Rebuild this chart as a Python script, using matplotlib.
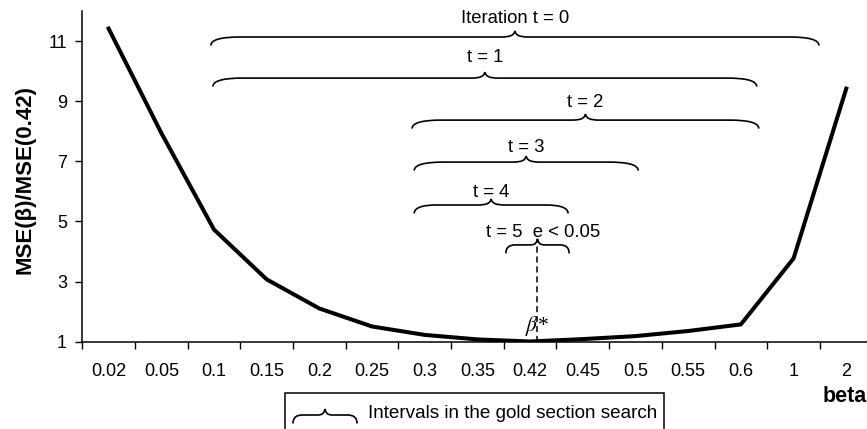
import numpy as np
import matplotlib
matplotlib.use("Agg")
import matplotlib.pyplot as plt
from matplotlib.path import Path
from matplotlib.patches import PathPatch, Rectangle

plt.rcParams['font.family'] = ['Liberation Sans', 'DejaVu Sans']

# data
betas = ['0.02', '0.05', '0.1', '0.15', '0.2', '0.25', '0.3', '0.35', '0.42',
         '0.45', '0.5', '0.55', '0.6', '1', '2']
mse_ratio = [11.43, 7.95, 4.73, 3.07, 2.1, 1.5, 1.22, 1.07, 1.0,
             1.08, 1.18, 1.35, 1.57, 3.77, 9.43]

# golden section intervals (in category units) and height of each brace
iter_labels = ['Iteration t = 0', 't = 1', 't = 2', 't = 3', 't = 4', 't = 5  e < 0.05']
iv_left = [1.94, 1.98, 5.76, 5.80, 5.80, 7.54]
iv_right = [13.48, 12.30, 12.34, 10.05, 8.72, 8.74]
iv_height = [11.15, 9.78, 8.38, 6.98, 5.55, 4.22]
label_height = [11.78, 10.45, 8.95, 7.45, 5.98, 4.62]
beta_star = 8.13

fig = plt.figure(figsize=(8.67, 4.29), dpi=100)
W, H = 867, 429
ax = fig.add_axes([82.3 / W, 87.5 / H, 790.3 / W, 330 / H])

x = np.arange(len(betas))
ax.plot(x, mse_ratio, color='black', lw=2.9, solid_joinstyle='miter', zorder=3)

ax.set_xlim(-0.5, len(betas) - 0.5)
ax.set_ylim(1, 12)
ax.set_yticks([1, 3, 5, 7, 9, 11])
ax.set_xticks(x)
ax.set_xticklabels(betas)
ax.set_xticks(np.arange(len(betas) + 1) - 0.5, minor=True)
ax.tick_params(axis='x', which='major', length=0, pad=15.5, labelsize=13)
ax.tick_params(axis='x', which='minor', length=5, width=1, direction='out')
ax.tick_params(axis='y', length=5, width=1, direction='out', pad=6, labelsize=13)
for s in ['top', 'right']:
    ax.spines[s].set_visible(False)
for s in ['left', 'bottom']:
    ax.spines[s].set_linewidth(1.1)

# pixel -> data scale
sx = (len(betas)) / 790.3
sy = 11 / 330.0


def brace(x0, x1, y, d=8.5, h=6):
    L = (x1 - x0) / sx
    m = L / 2
    c = min(30, 0.15 * L)
    k = min(14, 0.12 * L)
    pts = [(0, -d),
           (0, -d * 0.3), (c * 0.35, 0), (c, 0),
           (m - k, 0),
           (m - k * 0.3, 0), (m - 1, h * 0.3), (m, h),
           (m + 1, h * 0.3), (m + k * 0.3, 0), (m + k, 0),
           (L - c, 0),
           (L - c * 0.35, 0), (L, -d * 0.3), (L, -d)]
    codes = [Path.MOVETO] + [Path.CURVE4] * 3 + [Path.LINETO] + [Path.CURVE4] * 6 + \
            [Path.LINETO] + [Path.CURVE4] * 3
    verts = [(x0 + px * sx, y + py * sy) for px, py in pts]
    ax.add_patch(PathPatch(Path(verts, codes), fill=False, lw=1.2,
                           edgecolor='black', clip_on=False))


for lab, a, b, yh, yl in zip(iter_labels, iv_left, iv_right, iv_height, label_height):
    brace(a, b, yh)
    ax.text((a + b) / 2 + (0.1 if lab.startswith('t = 5') else 0), yl, lab,
            ha='center', va='center', fontsize=13.3, clip_on=False)

ax.plot([beta_star, beta_star], [1, iv_height[-1] + 6 * sy], color='black',
        lw=1.1, ls=(0, (4, 2.5)), zorder=4)
plt.rcParams['mathtext.fontset'] = 'stix'
ax.text(beta_star, 1.52, r'$\beta$*', ha='center', va='center', fontsize=15.5,
        family='Liberation Serif', style='italic')

ax.text(-57 / 790.3, 0.49, 'MSE(β)/MSE(0.42)', rotation=90, ha='center', va='center',
        fontsize=16, fontweight='bold', transform=ax.transAxes)
ax.text(845, H - 397, 'beta', ha='center', va='center', fontsize=15.5,
        fontweight='bold', transform=None)

# legend box at the bottom
fig.patches.append(Rectangle((285 / W, -10 / H), 379 / W, (H - 393 + 10) / H,
                             transform=fig.transFigure, fill=False, lw=1.1,
                             edgecolor='black'))
brace((293 - 82.3) * sx - 0.5, (357 - 82.3) * sx - 0.5, 1 - (415 - 341.5) * sy)
fig.text(368 / W, (H - 413) / H, 'Intervals in the gold section search',
         ha='left', va='center', fontsize=13.6)

fig.savefig('out.png', dpi=100)
